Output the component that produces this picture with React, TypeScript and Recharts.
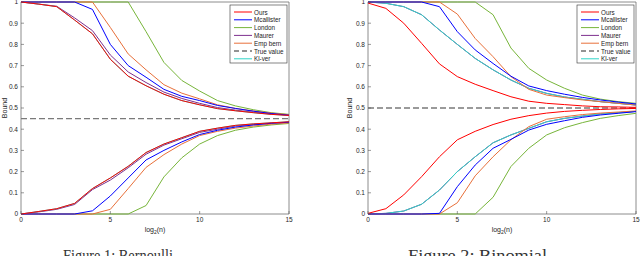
import React from 'react';
import { LineChart, Line, XAxis, YAxis, ReferenceLine, ReferenceArea } from 'recharts';

// ---------- shared axes ----------
const N = [0, 1, 2, 3, 4, 5, 6, 7, 8, 9, 10, 11, 12, 13, 14, 15];
const X_TICKS = [0, 5, 10, 15];
const Y_TICKS = [0, 0.1, 0.2, 0.3, 0.4, 0.5, 0.6, 0.7, 0.8, 0.9, 1];

const LEGEND_NAMES = ['Ours', 'Mcallister', 'London', 'Maurer', 'Emp bern', 'True value', 'Kl-ver'];
const LEGEND_COLORS = ['#ff0000', '#0000ff', '#77b53a', '#7e2f8e', '#e8703a', '#707070', '#30d5c8'];

// ---------- Figure 1 (Bernoulli) ----------
const bernTrue = 0.45;
const bernOursUp = [1.0, 0.99, 0.978, 0.915, 0.85, 0.73, 0.65, 0.605, 0.565, 0.535, 0.515, 0.497, 0.487, 0.478, 0.47, 0.465];
const bernOursLo = [0.0, 0.012, 0.025, 0.05, 0.12, 0.17, 0.225, 0.29, 0.33, 0.36, 0.39, 0.405, 0.418, 0.425, 0.43, 0.435];
const bernMaurerUp = [1.0, 0.99, 0.98, 0.925, 0.865, 0.75, 0.67, 0.62, 0.575, 0.545, 0.522, 0.502, 0.49, 0.48, 0.472, 0.466];
const bernMaurerLo = [0.0, 0.01, 0.022, 0.045, 0.115, 0.16, 0.218, 0.282, 0.325, 0.355, 0.385, 0.4, 0.415, 0.422, 0.428, 0.433];
const bernMcaUp = [1, 1, 1, 1, 0.965, 0.8, 0.7, 0.645, 0.588, 0.555, 0.535, 0.512, 0.498, 0.485, 0.474, 0.466];
const bernMcaLo = [0, 0, 0, 0, 0.015, 0.085, 0.17, 0.255, 0.3, 0.34, 0.375, 0.395, 0.41, 0.42, 0.428, 0.433];
const bernEmpUp = [1, 1, 1, 1, 1, 0.88, 0.755, 0.68, 0.61, 0.57, 0.543, 0.515, 0.498, 0.486, 0.476, 0.468];
const bernEmpLo = [0, 0, 0, 0, 0, 0.022, 0.12, 0.22, 0.28, 0.33, 0.37, 0.39, 0.405, 0.415, 0.424, 0.43];
const bernLonUp = [1, 1, 1, 1, 1, 1, 1, 0.86, 0.715, 0.63, 0.58, 0.535, 0.51, 0.492, 0.478, 0.47];
const bernLonLo = [0, 0, 0, 0, 0, 0, 0, 0.04, 0.175, 0.265, 0.33, 0.37, 0.395, 0.41, 0.42, 0.427];
const bernKlUp = [1.0, 0.99, 0.978, 0.915, 0.85, 0.73, 0.65, 0.605, 0.565, 0.535, 0.515, 0.497, 0.487, 0.478, 0.47, 0.465];
const bernKlLo = [0.0, 0.012, 0.025, 0.05, 0.12, 0.17, 0.225, 0.29, 0.33, 0.36, 0.39, 0.405, 0.418, 0.425, 0.43, 0.435];

// ---------- Figure 2 (Binomial) ----------
const binTrue = 0.5;
const binOursUp = [0.995, 0.97, 0.9, 0.805, 0.708, 0.648, 0.612, 0.582, 0.553, 0.532, 0.522, 0.516, 0.51, 0.506, 0.505, 0.503];
const binOursLo = [0.003, 0.025, 0.09, 0.176, 0.27, 0.35, 0.39, 0.422, 0.447, 0.464, 0.476, 0.484, 0.489, 0.493, 0.496, 0.498];
const binKlUp = [1.0, 0.994, 0.978, 0.94, 0.868, 0.8, 0.734, 0.68, 0.632, 0.593, 0.569, 0.552, 0.541, 0.53, 0.522, 0.514];
const binKlLo = [0.0, 0.003, 0.014, 0.046, 0.113, 0.2, 0.27, 0.336, 0.373, 0.404, 0.435, 0.451, 0.462, 0.472, 0.478, 0.484];
const binMaurerUp = [1.0, 0.994, 0.978, 0.94, 0.868, 0.8, 0.734, 0.68, 0.632, 0.593, 0.569, 0.552, 0.541, 0.53, 0.522, 0.514];
const binMaurerLo = [0.0, 0.003, 0.014, 0.046, 0.113, 0.2, 0.27, 0.336, 0.373, 0.404, 0.435, 0.451, 0.462, 0.472, 0.478, 0.484];
const binMcaUp = [1, 1, 1, 1, 0.978, 0.86, 0.774, 0.71, 0.65, 0.604, 0.582, 0.565, 0.55, 0.538, 0.528, 0.519];
const binMcaLo = [0, 0, 0, 0, 0.003, 0.129, 0.231, 0.31, 0.352, 0.396, 0.423, 0.44, 0.456, 0.467, 0.475, 0.483];
const binEmpUp = [1, 1, 1, 1, 1, 0.943, 0.828, 0.742, 0.648, 0.588, 0.561, 0.549, 0.538, 0.53, 0.522, 0.514];
const binEmpLo = [0, 0, 0, 0, 0, 0.053, 0.18, 0.27, 0.35, 0.412, 0.447, 0.459, 0.469, 0.476, 0.481, 0.486];
const binLonUp = [1, 1, 1, 1, 1, 1, 1, 0.94, 0.783, 0.687, 0.632, 0.593, 0.561, 0.542, 0.53, 0.522];
const binLonLo = [0, 0, 0, 0, 0, 0, 0, 0.079, 0.224, 0.31, 0.373, 0.407, 0.431, 0.451, 0.464, 0.475];

type SeriesMap = Record<string, number[]>;

const bernSeries: SeriesMap = {
  maurerUp: bernMaurerUp, maurerLo: bernMaurerLo,
  klUp: bernKlUp, klLo: bernKlLo,
  lonUp: bernLonUp, lonLo: bernLonLo,
  empUp: bernEmpUp, empLo: bernEmpLo,
  mcaUp: bernMcaUp, mcaLo: bernMcaLo,
  oursUp: bernOursUp, oursLo: bernOursLo,
};
const binSeries: SeriesMap = {
  maurerUp: binMaurerUp, maurerLo: binMaurerLo,
  klUp: binKlUp, klLo: binKlLo,
  lonUp: binLonUp, lonLo: binLonLo,
  empUp: binEmpUp, empLo: binEmpLo,
  mcaUp: binMcaUp, mcaLo: binMcaLo,
  oursUp: binOursUp, oursLo: binOursLo,
};

const KEY_COLOR: Record<string, string> = {
  maurer: '#7e2f8e', kl: '#30d5c8', lon: '#77b53a', emp: '#e8703a', mca: '#0000ff', ours: '#ff0000',
};

function buildRows(series: SeriesMap) {
  return N.map((n, i) => {
    const row: Record<string, number> = { n };
    Object.keys(series).forEach((k) => { row[k] = series[k][i]; });
    return row;
  });
}

const FONT = '"Liberation Sans", Arial, Helvetica, sans-serif';
const TICK = { fontSize: 6.5, fill: '#262626', fontFamily: FONT };

function Panel({ left, series, trueValue, yAxisWidth, marginRight }:
  { left: number; series: SeriesMap; trueValue: number; yAxisWidth: number; marginRight: number }) {
  const rows = buildRows(series);
  return (
    <div style={{ position: 'absolute', left, top: 0 }}>
      <LineChart width={320} height={256} data={rows} margin={{ top: 2, right: marginRight, bottom: 22, left: 0 }}>
        <XAxis dataKey="n" type="number" domain={[0, 15]} ticks={X_TICKS} interval={0}
          axisLine={false} tickSize={-3} tickMargin={6} height={20}
          tick={TICK} tickLine={{ stroke: '#555', strokeWidth: 0.6 }} />
        <XAxis xAxisId="top" orientation="top" type="number" domain={[0, 15]} ticks={X_TICKS} interval={0}
          axisLine={false} tickSize={-3} height={0} tickFormatter={() => ''}
          tickLine={{ stroke: '#555', strokeWidth: 0.6 }} />
        <YAxis type="number" domain={[0, 1]} ticks={Y_TICKS} interval={0} width={yAxisWidth}
          axisLine={false} tickSize={-3} tickMargin={6}
          tick={TICK} tickLine={{ stroke: '#555', strokeWidth: 0.6 }} />
        <YAxis yAxisId="r" orientation="right" type="number" domain={[0, 1]} ticks={Y_TICKS} interval={0} width={0}
          axisLine={false} tickSize={-3} tickFormatter={() => ''}
          tickLine={{ stroke: '#555', strokeWidth: 0.6 }} />
        <ReferenceLine y={trueValue} stroke="#7a7a7a" strokeDasharray="6 3" strokeWidth={1.3} />
        {Object.keys(series).map((k) => (
          <Line key={k} dataKey={k} type="linear" dot={false} activeDot={false}
            stroke={KEY_COLOR[k.replace(/(Up|Lo)$/, '')]} strokeWidth={1}
            isAnimationActive={false} />
        ))}
        <ReferenceArea x1={0} x2={15} y1={0} y2={1} fill="none" fillOpacity={0}
          stroke="#707070" strokeWidth={0.8} ifOverflow="visible" />
      </LineChart>
    </div>
  );
}

function LegendBox({ x }: { x: number }) {
  const y0 = 5;
  return (
    <g>
      <rect x={x} y={y0} width={57} height={58} fill="#fff" stroke="#333" strokeWidth={0.6} />
      {LEGEND_NAMES.map((name, i) => {
        const cy = 12 + i * 7.8;
        return (
          <g key={name}>
            <line x1={x + 4} x2={x + 22} y1={cy} y2={cy} stroke={LEGEND_COLORS[i]}
              strokeWidth={name === 'True value' ? 1.3 : 1}
              strokeDasharray={name === 'True value' ? '5 3' : undefined} />
            <text x={x + 24} y={cy} dominantBaseline="central" fontSize={6.3} fill="#222" fontFamily={FONT}>{name}</text>
          </g>
        );
      })}
    </g>
  );
}

function AxisLabels({ cx, yLabelX }: { cx: number; yLabelX: number }) {
  return (
    <g fontFamily={FONT} fill="#262626">
      <text x={yLabelX} y={108} fontSize={7} textAnchor="middle" transform={`rotate(-90 ${yLabelX} 108)`}>Bound</text>
      <text x={cx} y={231.5} fontSize={7} textAnchor="middle">
        log<tspan fontSize={5} dy={2}>2</tspan><tspan dy={-2}>(n)</tspan>
      </text>
    </g>
  );
}

const SERIF = '"Liberation Serif", "Times New Roman", serif';

export default function App() {
  return (
    <div style={{ position: 'absolute', left: 0, top: 0, width: 640, height: 256, background: '#fff', overflow: 'hidden' }}>
      <Panel left={0} series={bernSeries} trueValue={bernTrue} yAxisWidth={21} marginRight={31} />
      <Panel left={320} series={binSeries} trueValue={binTrue} yAxisWidth={48} marginRight={4} />
      <svg width={640} height={256} style={{ position: 'absolute', left: 0, top: 0, pointerEvents: 'none' }}>
        <LegendBox x={230} />
        <LegendBox x={577} />
        <AxisLabels cx={155} yLabelX={6.5} />
        <AxisLabels cx={502} yLabelX={351.5} />
        <text x={63} y={261} fontSize={16} fontFamily={SERIF} fill="#333"
          textLength={110} lengthAdjust="spacingAndGlyphs">Figure 1: Bernoulli</text>
        <text x={408} y={261} fontSize={16} fontFamily={SERIF} fill="#333"
          textLength={139} lengthAdjust="spacingAndGlyphs">Figure 2: Binomial</text>
      </svg>
    </div>
  );
}
